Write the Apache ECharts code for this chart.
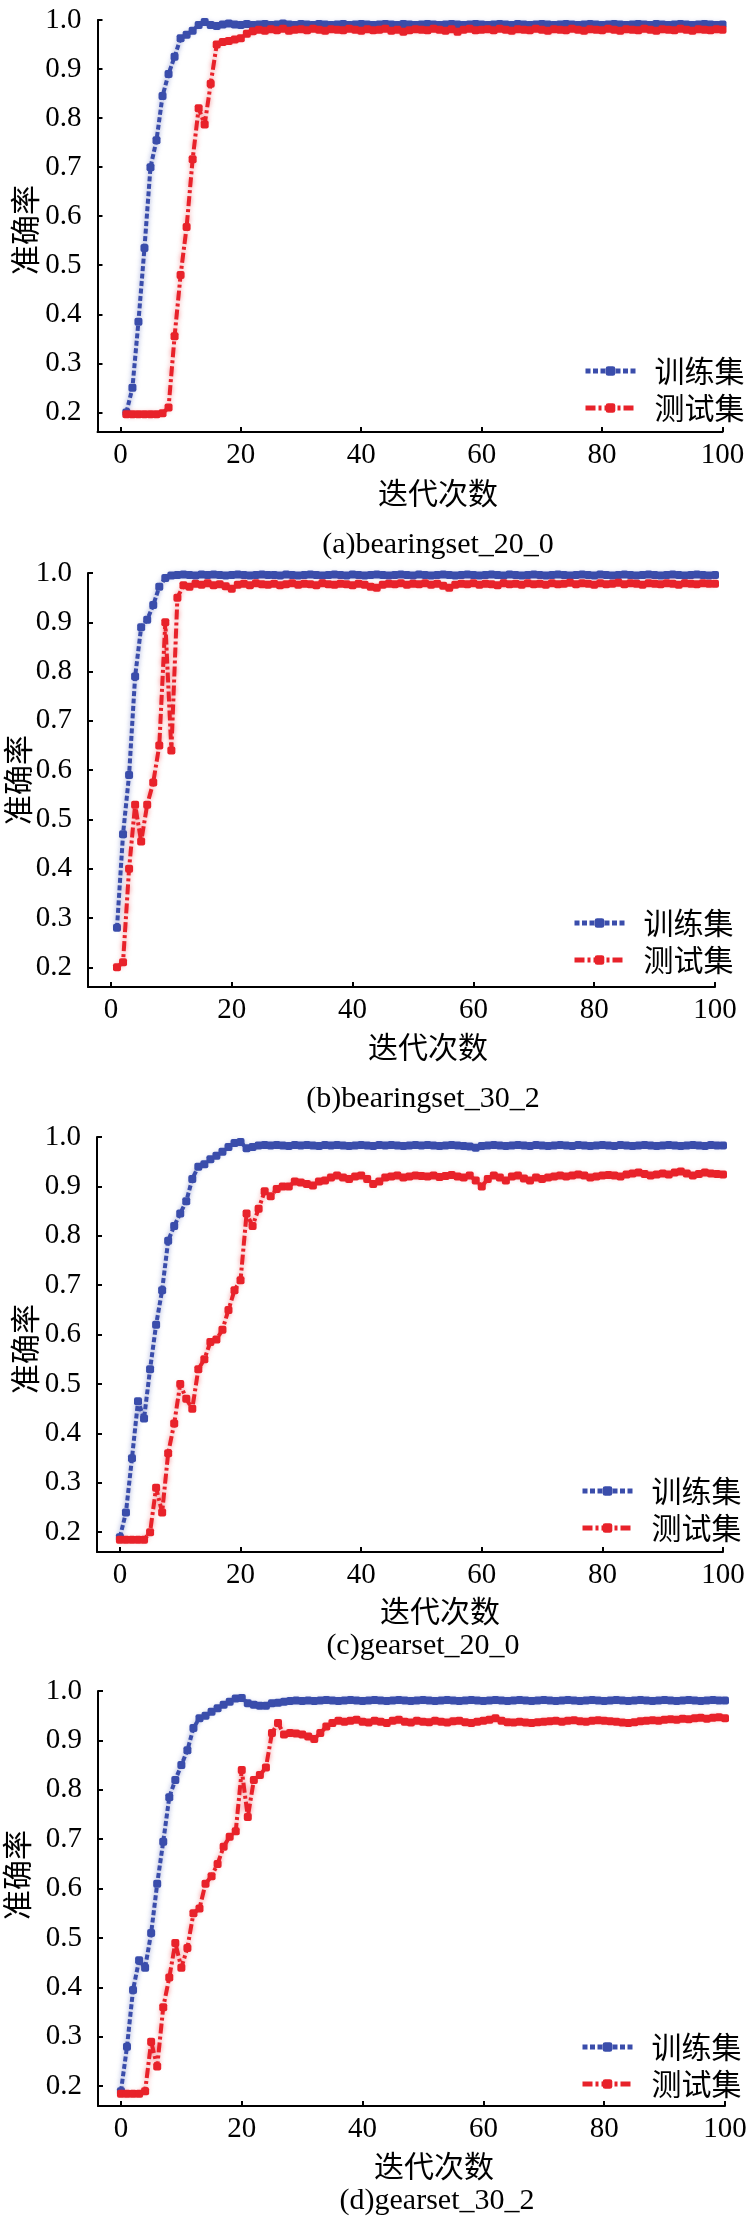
<!DOCTYPE html>
<html>
<head>
<meta charset="utf-8">
<script src="https://cdn.jsdelivr.net/npm/echarts@6/dist/echarts.min.js"></script>
<style>
html, body { margin: 0; padding: 0; background: #fff; }
#chart { width: 749px; height: 2224px; }
</style>
</head>
<body>
<div id="chart"></div>
<script>
// tick labels
let xTicks = [0, 20, 40, 60, 80, 100];
let yTicks = [0.2, 0.3, 0.4, 0.5, 0.6, 0.7, 0.8, 0.9, 1.0];
let seriesNames = ['训练集', '测试集'];
let captions = ['(a)bearingset_20_0', '(b)bearingset_30_2', '(c)gearset_20_0', '(d)gearset_30_2'];
// first epoch of each panel
let startEpoch = [1, 1, 0, 0];

// (a) bearingset_20_0, epochs 1..100
let trainA = [0.200,0.250,0.385,0.535,0.700,0.755,0.845,0.890,0.925,0.963,
    0.970,0.978,0.990,0.996,0.990,0.988,0.991,0.993,0.991,0.990,
    0.992,0.990,0.991,0.992,0.990,0.991,0.993,0.991,0.990,0.992,
    0.991,0.990,0.992,0.991,0.990,0.991,0.992,0.990,0.991,0.992,
    0.991,0.990,0.991,0.992,0.991,0.990,0.992,0.991,0.990,0.991,
    0.992,0.991,0.990,0.991,0.992,0.991,0.990,0.991,0.992,0.991,
    0.990,0.991,0.992,0.991,0.990,0.992,0.991,0.990,0.991,0.992,
    0.991,0.990,0.991,0.992,0.991,0.990,0.991,0.992,0.991,0.990,
    0.991,0.992,0.991,0.990,0.991,0.992,0.991,0.990,0.992,0.991,
    0.990,0.991,0.992,0.991,0.990,0.991,0.992,0.991,0.990,0.991];
let testA = [0.196,0.196,0.196,0.196,0.196,0.196,0.198,0.210,0.355,0.480,
    0.578,0.716,0.820,0.787,0.870,0.950,0.955,0.957,0.960,0.963,
    0.972,0.977,0.980,0.978,0.981,0.979,0.982,0.978,0.980,0.981,
    0.979,0.982,0.980,0.978,0.981,0.980,0.979,0.982,0.980,0.978,
    0.981,0.979,0.980,0.982,0.978,0.980,0.976,0.979,0.981,0.980,
    0.979,0.982,0.980,0.978,0.981,0.976,0.980,0.982,0.979,0.980,
    0.981,0.979,0.982,0.980,0.978,0.981,0.980,0.979,0.982,0.980,
    0.978,0.981,0.980,0.979,0.982,0.980,0.978,0.981,0.980,0.979,
    0.982,0.980,0.978,0.981,0.980,0.979,0.982,0.980,0.978,0.981,
    0.980,0.979,0.982,0.980,0.978,0.981,0.980,0.979,0.981,0.980];

// (b) bearingset_30_2, epochs 1..100
let trainB = [0.280,0.470,0.590,0.790,0.890,0.905,0.935,0.972,0.990,0.995,
    0.996,0.997,0.996,0.995,0.997,0.996,0.997,0.996,0.995,0.996,
    0.997,0.996,0.995,0.996,0.997,0.996,0.996,0.995,0.997,0.996,
    0.995,0.996,0.997,0.996,0.995,0.996,0.997,0.996,0.995,0.997,
    0.996,0.995,0.996,0.997,0.996,0.995,0.996,0.997,0.996,0.995,
    0.997,0.996,0.995,0.996,0.997,0.996,0.995,0.996,0.997,0.996,
    0.995,0.996,0.997,0.996,0.995,0.997,0.996,0.995,0.996,0.997,
    0.996,0.995,0.996,0.997,0.996,0.995,0.996,0.997,0.996,0.995,
    0.997,0.996,0.995,0.996,0.997,0.996,0.995,0.996,0.997,0.996,
    0.995,0.996,0.997,0.996,0.995,0.996,0.997,0.996,0.995,0.996];
let testB = [0.200,0.210,0.400,0.530,0.455,0.530,0.575,0.650,0.900,0.640,
    0.950,0.975,0.972,0.978,0.976,0.979,0.975,0.977,0.973,0.968,
    0.976,0.978,0.975,0.979,0.977,0.976,0.978,0.975,0.977,0.979,
    0.976,0.978,0.977,0.975,0.979,0.977,0.976,0.978,0.977,0.975,
    0.978,0.976,0.972,0.970,0.976,0.978,0.977,0.979,0.976,0.978,
    0.977,0.979,0.976,0.978,0.974,0.970,0.976,0.978,0.977,0.979,
    0.976,0.978,0.977,0.975,0.979,0.977,0.978,0.976,0.979,0.977,
    0.978,0.976,0.979,0.977,0.978,0.980,0.977,0.979,0.978,0.976,
    0.979,0.977,0.978,0.980,0.977,0.979,0.978,0.976,0.979,0.978,
    0.977,0.979,0.978,0.976,0.979,0.978,0.977,0.979,0.978,0.978];

// (c) gearset_20_0, epochs 0..100
let trainC = [0.190,0.240,0.350,0.465,0.430,0.530,0.620,0.690,0.790,0.820,0.845,
    0.870,0.915,0.940,0.945,0.955,0.962,0.970,0.980,0.988,0.990,
    0.977,0.980,0.983,0.984,0.983,0.984,0.983,0.982,0.984,0.983,
    0.984,0.983,0.982,0.984,0.983,0.984,0.983,0.982,0.983,0.984,
    0.983,0.982,0.984,0.983,0.984,0.983,0.982,0.983,0.984,0.983,
    0.984,0.983,0.982,0.983,0.984,0.983,0.982,0.981,0.978,0.982,
    0.983,0.984,0.983,0.982,0.983,0.984,0.983,0.982,0.984,0.983,
    0.982,0.983,0.984,0.983,0.982,0.984,0.983,0.982,0.983,0.984,
    0.983,0.982,0.984,0.983,0.982,0.983,0.984,0.983,0.982,0.983,
    0.984,0.983,0.982,0.983,0.984,0.983,0.982,0.984,0.983,0.983];
let testC = [0.185,0.185,0.185,0.185,0.185,0.200,0.290,0.240,0.360,0.420,0.500,
    0.470,0.450,0.530,0.550,0.585,0.590,0.610,0.650,0.690,0.710,
    0.845,0.820,0.855,0.890,0.880,0.895,0.900,0.900,0.910,0.908,
    0.905,0.902,0.910,0.912,0.918,0.922,0.918,0.915,0.920,0.922,
    0.915,0.905,0.910,0.918,0.920,0.922,0.918,0.920,0.922,0.921,
    0.920,0.922,0.919,0.921,0.923,0.920,0.918,0.922,0.912,0.900,
    0.915,0.922,0.918,0.912,0.920,0.922,0.916,0.912,0.918,0.915,
    0.918,0.920,0.922,0.920,0.922,0.924,0.922,0.918,0.920,0.922,
    0.923,0.922,0.920,0.924,0.926,0.928,0.925,0.922,0.924,0.926,
    0.924,0.928,0.930,0.926,0.922,0.925,0.928,0.926,0.925,0.924];

// (d) gearset_30_2, epochs 0..100
let trainD = [0.190,0.280,0.395,0.455,0.440,0.510,0.610,0.695,0.785,0.820,0.850,
    0.880,0.925,0.945,0.950,0.958,0.965,0.972,0.978,0.985,0.986,
    0.975,0.972,0.970,0.970,0.975,0.976,0.978,0.980,0.981,0.980,
    0.981,0.980,0.981,0.982,0.981,0.980,0.981,0.982,0.981,0.980,
    0.981,0.982,0.981,0.980,0.981,0.982,0.981,0.980,0.981,0.982,
    0.981,0.980,0.981,0.982,0.981,0.980,0.981,0.982,0.981,0.980,
    0.981,0.982,0.981,0.980,0.981,0.982,0.981,0.980,0.981,0.982,
    0.981,0.980,0.981,0.982,0.981,0.980,0.981,0.982,0.981,0.980,
    0.981,0.982,0.981,0.980,0.981,0.982,0.981,0.980,0.981,0.982,
    0.981,0.980,0.981,0.982,0.981,0.980,0.981,0.982,0.981,0.981];
let testD = [0.185,0.185,0.185,0.185,0.190,0.290,0.240,0.360,0.420,0.490,0.440,
    0.480,0.550,0.560,0.610,0.625,0.650,0.685,0.705,0.716,0.840,
    0.745,0.820,0.830,0.845,0.915,0.935,0.912,0.915,0.914,0.912,
    0.908,0.903,0.915,0.928,0.935,0.940,0.938,0.940,0.942,0.938,
    0.936,0.940,0.938,0.935,0.940,0.942,0.938,0.936,0.940,0.938,
    0.937,0.940,0.938,0.936,0.939,0.940,0.937,0.935,0.938,0.940,
    0.942,0.945,0.940,0.937,0.936,0.938,0.936,0.935,0.937,0.938,
    0.939,0.940,0.938,0.940,0.941,0.939,0.938,0.940,0.941,0.940,
    0.939,0.938,0.936,0.935,0.937,0.939,0.940,0.941,0.940,0.942,
    0.943,0.942,0.944,0.943,0.945,0.946,0.944,0.946,0.947,0.945];

let trainData = [trainA, trainB, trainC, trainD];
let testData = [testA, testB, testC, testD];

// layout of the four panels (px)
let panels = [
    {left: 97.5, top: 20, width: 625, height: 412, legendLeft: 578, legendTop: 350, capX: 438, capY: 545, xnX: 438, xnY: 493, ynX: 25, ynY: 230},
    {left: 88, top: 573, width: 627, height: 414, legendLeft: 567, legendTop: 902, capX: 423, capY: 1099, xnX: 428, xnY: 1047, ynX: 18, ynY: 780},
    {left: 97, top: 1137, width: 626, height: 415, legendLeft: 575, legendTop: 1470, capX: 423, capY: 1646, xnX: 440, xnY: 1611, ynX: 25, ynY: 1349},
    {left: 98, top: 1691, width: 627, height: 415, legendLeft: 575, legendTop: 2026, capX: 437, capY: 2201, xnX: 434, xnY: 2166, ynX: 17, ynY: 1875}
];

let blue = '#3a4dab';
let red = '#e8222a';
let numFont = 'Liberation Serif';
let cjkFont = 'Noto Sans CJK SC';
let numRich = {n: {fontFamily: numFont, fontSize: 29, color: '#000'}};

function toPoints(values, start) {
    return values.map(function (v, i) { return [start + i, v]; });
}

function axisBase() {
    return {
        axisLine: {show: true, onZero: false, lineStyle: {color: '#000', width: 2}},
        axisTick: {show: true, inside: true, length: 5, lineStyle: {color: '#000', width: 2}},
        splitLine: {show: false}
    };
}

let grids = [], xAxes = [], yAxes = [], series = [], legends = [], graphics = [];

for (let p = 0; p < 4; p++) {
    let g = panels[p];
    grids.push({left: g.left, top: g.top, width: g.width, height: g.height, containLabel: false, outerBoundsMode: 'none'});

    let xa = axisBase();
    xa.type = 'value';
    xa.gridIndex = p;
    xa.min = -3.8;
    xa.max = 100;
    xa.axisTick.customValues = xTicks;
    xa.axisLabel = {
        customValues: xTicks, margin: 9, fontSize: 29, fontFamily: numFont, color: '#000',
        formatter: function (v) { return '{n|' + v + '}'; }, rich: numRich
    };
    xAxes.push(xa);

    let ya = axisBase();
    ya.type = 'value';
    ya.gridIndex = p;
    ya.min = 0.16;
    ya.max = 1.0;
    ya.axisTick.customValues = yTicks;
    ya.axisLabel = {
        customValues: yTicks, margin: 16, fontSize: 29, fontFamily: numFont, color: '#000',
        formatter: function (v) { return '{n|' + v.toFixed(1) + '}'; }, rich: numRich
    };
    yAxes.push(ya);

    series.push({
        name: seriesNames[0], type: 'line', xAxisIndex: p, yAxisIndex: p,
        data: toPoints(trainData[p], startEpoch[p]),
        symbol: 'roundRect', symbolSize: 8, clip: false,
        itemStyle: {color: blue},
        lineStyle: {color: blue, width: 4, type: [5, 2.5], shadowBlur: 5, shadowColor: 'rgba(58,77,171,0.6)'},
        z: 3
    });
    series.push({
        name: seriesNames[1], type: 'line', xAxisIndex: p, yAxisIndex: p,
        data: toPoints(testData[p], startEpoch[p]),
        symbol: 'roundRect', symbolSize: 8, clip: false,
        itemStyle: {color: red},
        lineStyle: {color: red, width: 4, type: [10, 3, 3, 3], shadowBlur: 5, shadowColor: 'rgba(232,34,42,0.55)'},
        z: 4
    });

    legends.push({
        orient: 'vertical', left: g.legendLeft, top: g.legendTop,
        data: seriesNames, selectedMode: false,
        itemWidth: 50, itemHeight: 12, itemGap: 5,
        lineStyle: {width: 5},
        textStyle: {fontFamily: cjkFont, fontSize: 30, lineHeight: 32, color: '#000', padding: [0, 0, 0, 14]}
    });

    graphics.push({
        type: 'text', x: g.capX, y: g.capY,
        style: {text: captions[p], font: '30px "Liberation Serif"', fill: '#000', align: 'center', verticalAlign: 'middle', textAlign: 'center', textVerticalAlign: 'middle'}
    });
    graphics.push({
        type: 'text', x: g.xnX, y: g.xnY,
        style: {text: '迭代次数', font: '30px "Noto Sans CJK SC"', fill: '#000', align: 'center', verticalAlign: 'middle', textAlign: 'center', textVerticalAlign: 'middle'}
    });
    graphics.push({
        type: 'text', x: g.ynX, y: g.ynY, rotation: Math.PI / 2,
        style: {text: '准确率', font: '30px "Noto Sans CJK SC"', fill: '#000', align: 'center', verticalAlign: 'middle', textAlign: 'center', textVerticalAlign: 'middle'}
    });
}

let myChart = echarts.init(document.getElementById('chart'), null, {renderer: 'canvas'});
myChart.setOption({
    animation: false,
    backgroundColor: '#fff',
    textStyle: {fontFamily: numFont},
    grid: grids,
    xAxis: xAxes,
    yAxis: yAxes,
    legend: legends,
    series: series,
    graphic: graphics
});
</script>
</body>
</html>
